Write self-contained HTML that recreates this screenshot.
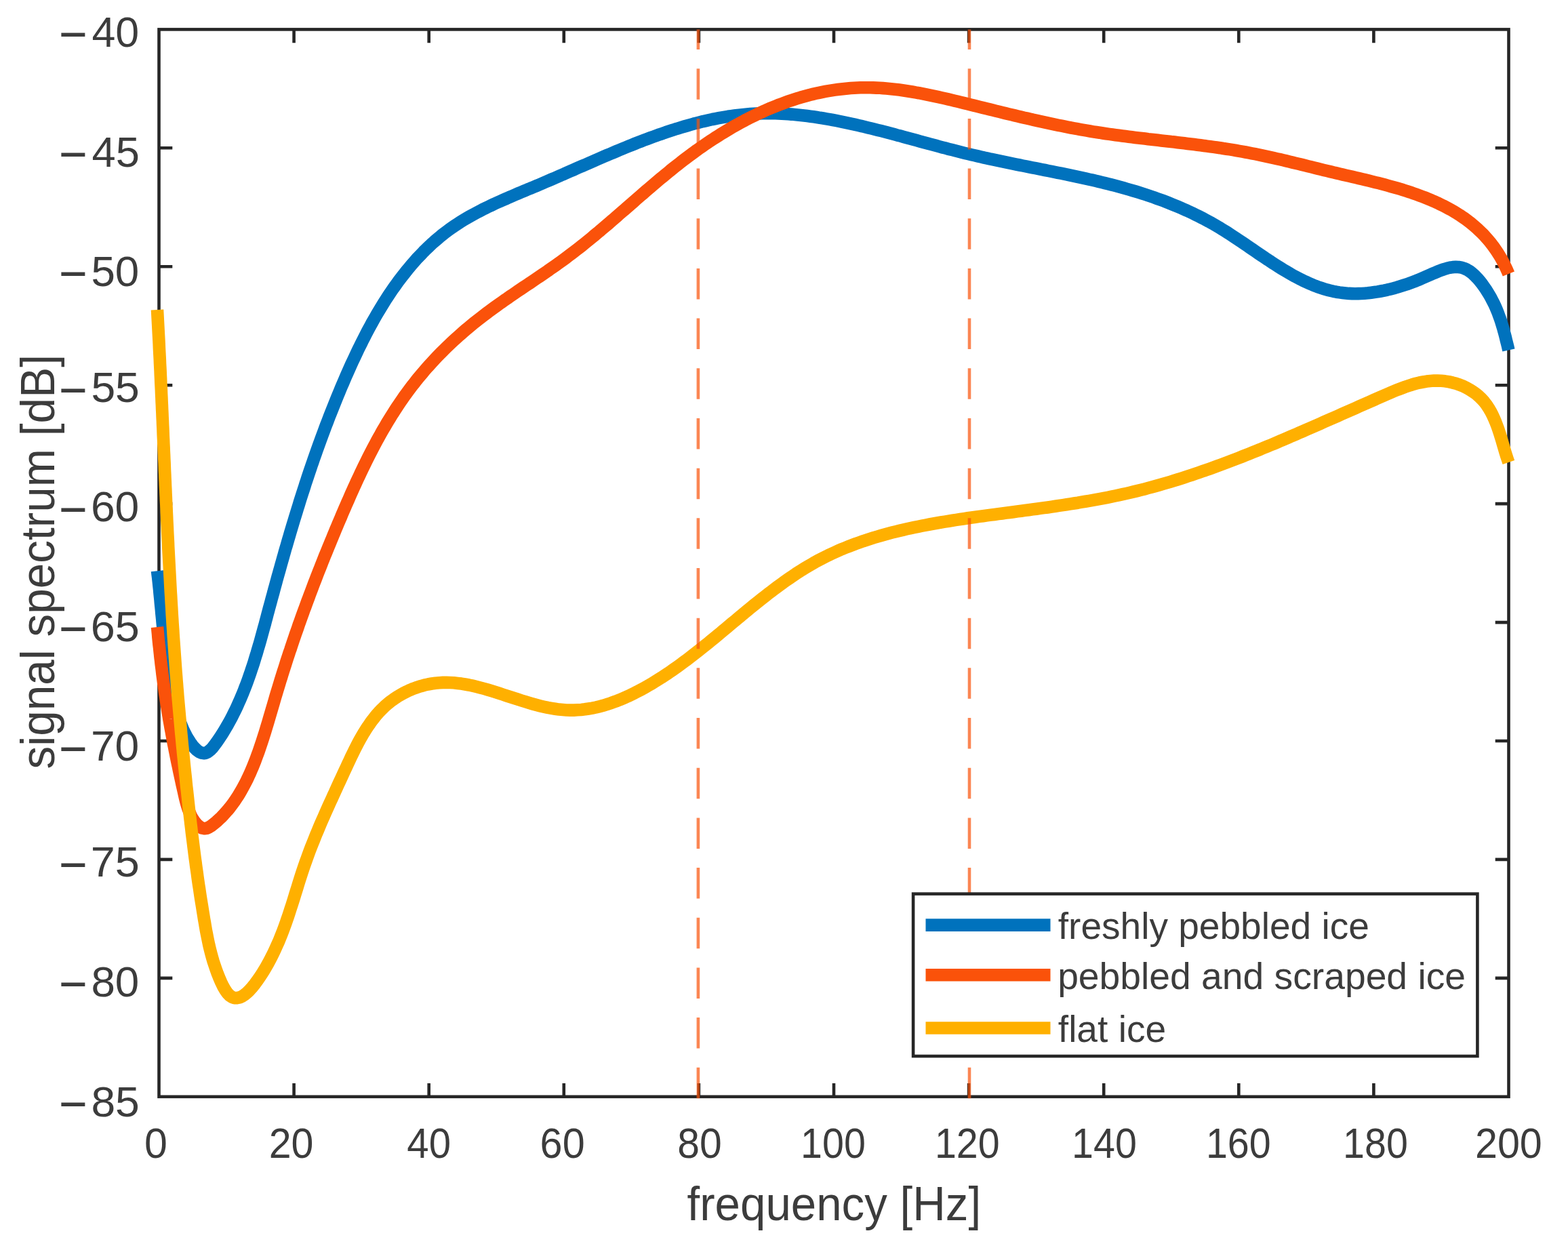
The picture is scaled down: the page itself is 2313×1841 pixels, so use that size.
<!DOCTYPE html>
<html lang="en"><head><meta charset="utf-8"><title>signal spectrum</title>
<style>html,body{margin:0;padding:0;background:#fff}body{width:2313px;height:1841px;overflow:hidden}svg{display:block}text{font-family:"Liberation Sans",Arial,Helvetica,sans-serif;fill:#3c3c3c}</style></head><body>
<svg xmlns="http://www.w3.org/2000/svg" width="2313" height="1841" viewBox="0 0 2313 1841">
<rect width="2313" height="1841" fill="#fff"/>
<g stroke="#262626" stroke-width="4.6" fill="none" stroke-linecap="butt">
<rect x="234.5" y="43.4" width="1991.0" height="1574.4"/>
<path d="M433.6,1617.8v-19.8M433.6,43.4v19.8"/>
<path d="M632.7,1617.8v-19.8M632.7,43.4v19.8"/>
<path d="M831.8,1617.8v-19.8M831.8,43.4v19.8"/>
<path d="M1030.9,1617.8v-19.8M1030.9,43.4v19.8"/>
<path d="M1230.0,1617.8v-19.8M1230.0,43.4v19.8"/>
<path d="M1429.1,1617.8v-19.8M1429.1,43.4v19.8"/>
<path d="M1628.2,1617.8v-19.8M1628.2,43.4v19.8"/>
<path d="M1827.3,1617.8v-19.8M1827.3,43.4v19.8"/>
<path d="M2026.4,1617.8v-19.8M2026.4,43.4v19.8"/>
<path d="M234.5,1442.9h19.8M2225.5,1442.9h-19.8"/>
<path d="M234.5,1267.9h19.8M2225.5,1267.9h-19.8"/>
<path d="M234.5,1093.0h19.8M2225.5,1093.0h-19.8"/>
<path d="M234.5,918.1h19.8M2225.5,918.1h-19.8"/>
<path d="M234.5,743.1h19.8M2225.5,743.1h-19.8"/>
<path d="M234.5,568.2h19.8M2225.5,568.2h-19.8"/>
<path d="M234.5,393.3h19.8M2225.5,393.3h-19.8"/>
<path d="M234.5,218.3h19.8M2225.5,218.3h-19.8"/>
</g>
<g fill="none" stroke-width="18.6" stroke-linejoin="round" stroke-linecap="butt">
<path stroke="#0072bd" d="M232.0,842.2 L232.5,846.8 L233.1,851.4 L233.6,856.1 L234.1,860.8 L234.6,865.6 L235.1,870.3 L235.5,875.1 L236.0,880.0 L236.5,884.8 L236.9,889.7 L237.4,894.6 L237.9,899.5 L238.3,904.4 L238.8,909.3 L239.3,914.2 L239.7,919.1 L240.2,924.0 L240.7,928.9 L241.2,933.8 L241.6,938.7 L242.1,943.6 L242.6,948.5 L243.1,953.3 L243.7,958.1 L244.2,962.9 L244.7,967.7 L245.3,972.4 L245.9,977.1 L246.5,981.8 L247.1,986.4 L247.7,991.0 L248.3,995.5 L249.0,1000.1 L249.8,1004.6 L250.5,1009.1 L251.3,1013.6 L252.2,1018.1 L253.2,1022.6 L254.2,1027.2 L255.3,1031.7 L256.5,1036.3 L257.7,1041.0 L259.1,1045.7 L260.6,1050.4 L262.1,1055.2 L263.8,1060.1 L265.6,1065.0 L267.6,1070.0 L269.7,1075.1 L272.1,1080.2 L274.7,1085.3 L277.6,1090.3 L280.6,1095.0 L283.7,1099.4 L287.0,1103.3 L290.3,1106.5 L293.7,1109.0 L297.1,1110.6 L300.4,1111.2 L303.7,1110.7 L306.9,1109.1 L310.0,1106.6 L313.1,1103.5 L316.0,1099.8 L318.9,1095.9 L321.7,1091.9 L324.5,1087.8 L327.2,1083.6 L329.8,1079.5 L332.3,1075.3 L334.8,1071.1 L337.2,1066.8 L339.5,1062.6 L341.8,1058.3 L344.0,1053.9 L346.2,1049.6 L348.3,1045.2 L350.3,1040.8 L352.3,1036.3 L354.3,1031.9 L356.2,1027.4 L358.1,1022.9 L359.9,1018.4 L361.6,1013.9 L363.4,1009.3 L365.1,1004.8 L366.7,1000.2 L368.3,995.6 L369.9,991.0 L371.4,986.4 L373.0,981.7 L374.5,977.1 L375.9,972.4 L377.3,967.8 L378.8,963.1 L380.1,958.4 L381.5,953.8 L382.9,949.1 L384.2,944.4 L385.5,939.7 L386.8,935.0 L388.1,930.3 L389.4,925.6 L390.7,920.9 L391.9,916.2 L393.2,911.5 L394.4,906.8 L395.7,902.1 L396.9,897.4 L398.2,892.7 L399.5,888.0 L400.7,883.4 L402.0,878.7 L403.3,874.1 L404.5,869.4 L405.8,864.8 L407.1,860.1 L408.3,855.5 L409.6,850.8 L410.9,846.2 L412.2,841.6 L413.5,837.0 L414.8,832.3 L416.1,827.7 L417.4,823.1 L418.7,818.5 L420.0,813.9 L421.3,809.3 L422.7,804.7 L424.0,800.2 L425.3,795.6 L426.7,791.0 L428.0,786.4 L429.4,781.8 L430.7,777.3 L432.1,772.7 L433.5,768.1 L434.9,763.6 L436.3,759.0 L437.7,754.5 L439.1,749.9 L440.5,745.4 L441.9,740.8 L443.3,736.3 L444.8,731.7 L446.2,727.2 L447.7,722.7 L449.2,718.1 L450.6,713.6 L452.1,709.1 L453.6,704.5 L455.1,700.0 L456.6,695.5 L458.2,690.9 L459.7,686.4 L461.3,681.9 L462.8,677.4 L464.4,672.9 L466.0,668.4 L467.6,663.8 L469.2,659.3 L470.8,654.8 L472.5,650.3 L474.1,645.8 L475.8,641.3 L477.5,636.8 L479.1,632.3 L480.8,627.7 L482.6,623.2 L484.3,618.7 L486.0,614.2 L487.8,609.7 L489.6,605.2 L491.4,600.7 L493.2,596.2 L495.0,591.7 L496.8,587.2 L498.7,582.7 L500.6,578.2 L502.4,573.6 L504.3,569.1 L506.3,564.6 L508.2,560.1 L510.1,555.6 L512.1,551.1 L514.1,546.6 L516.1,542.1 L518.1,537.6 L520.2,533.1 L522.3,528.7 L524.4,524.2 L526.5,519.7 L528.6,515.3 L530.8,510.9 L533.0,506.5 L535.2,502.0 L537.4,497.7 L539.6,493.3 L541.9,488.9 L544.2,484.6 L546.6,480.3 L548.9,476.0 L551.3,471.7 L553.7,467.5 L556.2,463.2 L558.7,459.0 L561.2,454.9 L563.7,450.7 L566.3,446.6 L568.8,442.5 L571.5,438.4 L574.1,434.4 L576.8,430.4 L579.5,426.4 L582.3,422.5 L585.1,418.6 L587.9,414.7 L590.8,410.9 L593.7,407.1 L596.6,403.4 L599.6,399.7 L602.6,396.0 L605.6,392.4 L608.7,388.8 L611.8,385.2 L614.9,381.7 L618.1,378.3 L621.4,374.9 L624.6,371.5 L628.0,368.2 L631.3,365.0 L634.7,361.8 L638.1,358.6 L641.6,355.5 L645.2,352.5 L648.7,349.5 L652.3,346.5 L656.0,343.7 L659.7,340.9 L663.5,338.1 L667.3,335.4 L671.1,332.8 L675.0,330.2 L678.9,327.7 L682.9,325.2 L686.9,322.8 L691.0,320.4 L695.0,318.1 L699.2,315.8 L703.3,313.6 L707.5,311.4 L711.7,309.2 L716.0,307.1 L720.3,305.0 L724.6,303.0 L728.9,300.9 L733.3,298.9 L737.7,297.0 L742.1,295.0 L746.5,293.1 L750.9,291.1 L755.4,289.2 L759.9,287.3 L764.3,285.4 L768.8,283.5 L773.3,281.6 L777.8,279.7 L782.4,277.9 L786.9,276.0 L791.4,274.1 L795.9,272.2 L800.5,270.2 L805.0,268.3 L809.5,266.4 L814.1,264.4 L818.6,262.5 L823.1,260.5 L827.6,258.5 L832.2,256.6 L836.7,254.6 L841.2,252.6 L845.8,250.6 L850.3,248.6 L854.8,246.6 L859.4,244.6 L863.9,242.7 L868.4,240.7 L873.0,238.7 L877.5,236.7 L882.0,234.8 L886.6,232.8 L891.1,230.8 L895.6,228.9 L900.2,227.0 L904.7,225.1 L909.3,223.1 L913.8,221.2 L918.3,219.4 L922.9,217.5 L927.4,215.7 L932.0,213.8 L936.5,212.0 L941.1,210.2 L945.6,208.5 L950.2,206.7 L954.8,205.0 L959.3,203.3 L963.9,201.6 L968.4,200.0 L973.0,198.3 L977.6,196.8 L982.1,195.2 L986.7,193.7 L991.3,192.2 L995.8,190.7 L1000.4,189.3 L1005.0,187.9 L1009.6,186.5 L1014.2,185.2 L1018.8,183.9 L1023.3,182.6 L1027.9,181.4 L1032.5,180.3 L1037.1,179.1 L1041.7,178.1 L1046.3,177.0 L1050.9,176.0 L1055.6,175.1 L1060.2,174.2 L1064.8,173.4 L1069.4,172.6 L1074.0,171.8 L1078.7,171.1 L1083.3,170.5 L1087.9,169.9 L1092.6,169.4 L1097.2,168.9 L1101.8,168.5 L1106.5,168.1 L1111.1,167.8 L1115.8,167.6 L1120.5,167.4 L1125.1,167.3 L1129.8,167.2 L1134.5,167.2 L1139.1,167.2 L1143.8,167.3 L1148.5,167.5 L1153.2,167.7 L1157.9,168.0 L1162.6,168.3 L1167.3,168.6 L1171.9,169.0 L1176.6,169.5 L1181.4,170.0 L1186.1,170.5 L1190.8,171.1 L1195.5,171.7 L1200.2,172.3 L1204.9,173.0 L1209.6,173.8 L1214.4,174.5 L1219.1,175.3 L1223.8,176.2 L1228.5,177.0 L1233.3,177.9 L1238.0,178.8 L1242.7,179.8 L1247.5,180.8 L1252.2,181.8 L1256.9,182.8 L1261.7,183.9 L1266.4,185.0 L1271.2,186.1 L1275.9,187.2 L1280.7,188.4 L1285.4,189.5 L1290.2,190.7 L1294.9,191.9 L1299.7,193.1 L1304.4,194.3 L1309.2,195.6 L1313.9,196.8 L1318.7,198.1 L1323.4,199.4 L1328.2,200.6 L1333.0,201.9 L1337.7,203.2 L1342.5,204.5 L1347.2,205.8 L1352.0,207.1 L1356.8,208.4 L1361.5,209.7 L1366.3,211.0 L1371.0,212.3 L1375.8,213.5 L1380.6,214.8 L1385.3,216.1 L1390.1,217.4 L1394.8,218.6 L1399.6,219.9 L1404.4,221.1 L1409.1,222.3 L1413.9,223.5 L1418.6,224.7 L1423.4,225.9 L1428.2,227.1 L1432.9,228.2 L1437.7,229.3 L1442.4,230.4 L1447.2,231.5 L1451.9,232.6 L1456.7,233.6 L1461.4,234.7 L1466.2,235.7 L1470.9,236.7 L1475.6,237.7 L1480.4,238.7 L1485.1,239.7 L1489.9,240.7 L1494.6,241.6 L1499.3,242.6 L1504.0,243.5 L1508.8,244.5 L1513.5,245.4 L1518.2,246.4 L1522.9,247.3 L1527.6,248.2 L1532.3,249.2 L1537.0,250.1 L1541.7,251.0 L1546.4,252.0 L1551.1,252.9 L1555.8,253.8 L1560.5,254.8 L1565.1,255.7 L1569.8,256.7 L1574.5,257.6 L1579.1,258.6 L1583.8,259.6 L1588.4,260.6 L1593.1,261.6 L1597.7,262.6 L1602.3,263.6 L1607.0,264.7 L1611.6,265.7 L1616.2,266.8 L1620.8,267.9 L1625.4,269.0 L1630.0,270.1 L1634.6,271.3 L1639.1,272.4 L1643.7,273.6 L1648.3,274.8 L1652.8,276.0 L1657.4,277.3 L1661.9,278.6 L1666.4,279.9 L1671.0,281.2 L1675.5,282.5 L1680.0,283.9 L1684.5,285.3 L1689.0,286.8 L1693.4,288.3 L1697.9,289.8 L1702.4,291.3 L1706.8,292.9 L1711.3,294.5 L1715.7,296.1 L1720.1,297.8 L1724.5,299.5 L1728.9,301.3 L1733.3,303.1 L1737.7,304.9 L1742.1,306.8 L1746.4,308.7 L1750.8,310.6 L1755.1,312.6 L1759.5,314.7 L1763.8,316.8 L1768.1,318.9 L1772.4,321.1 L1776.7,323.3 L1780.9,325.6 L1785.2,327.9 L1789.4,330.3 L1793.7,332.8 L1797.9,335.2 L1802.1,337.8 L1806.3,340.4 L1810.5,343.0 L1814.7,345.7 L1818.8,348.4 L1823.0,351.2 L1827.1,353.9 L1831.3,356.7 L1835.4,359.5 L1839.6,362.4 L1843.7,365.2 L1847.8,368.0 L1852.0,370.9 L1856.1,373.7 L1860.2,376.5 L1864.4,379.3 L1868.5,382.1 L1872.7,384.8 L1876.8,387.6 L1881.0,390.3 L1885.1,392.9 L1889.3,395.5 L1893.5,398.1 L1897.7,400.6 L1901.9,403.1 L1906.1,405.5 L1910.3,407.8 L1914.6,410.0 L1918.8,412.2 L1923.1,414.3 L1927.4,416.3 L1931.7,418.2 L1936.0,420.1 L1940.3,421.8 L1944.7,423.4 L1949.1,424.9 L1953.5,426.3 L1957.9,427.6 L1962.4,428.7 L1966.9,429.8 L1971.4,430.7 L1975.9,431.4 L1980.5,432.0 L1985.1,432.5 L1989.7,432.9 L1994.4,433.1 L1999.0,433.2 L2003.7,433.1 L2008.4,433.0 L2013.1,432.7 L2017.8,432.3 L2022.6,431.7 L2027.3,431.1 L2032.1,430.4 L2036.8,429.5 L2041.6,428.6 L2046.3,427.6 L2051.1,426.4 L2055.9,425.2 L2060.6,423.9 L2065.4,422.4 L2070.1,420.9 L2074.9,419.4 L2079.6,417.7 L2084.3,416.0 L2089.0,414.2 L2093.6,412.3 L2098.3,410.3 L2102.9,408.3 L2107.5,406.3 L2112.1,404.2 L2116.7,402.3 L2121.2,400.4 L2125.7,398.6 L2130.1,397.1 L2134.5,395.8 L2138.8,394.8 L2143.1,394.1 L2147.4,393.8 L2151.6,394.0 L2155.7,394.7 L2159.7,395.9 L2163.7,397.6 L2167.7,400.0 L2171.5,402.9 L2175.2,406.2 L2178.8,409.9 L2182.3,413.9 L2185.7,418.1 L2188.8,422.5 L2191.8,426.8 L2194.6,431.2 L2197.2,435.5 L2199.7,439.9 L2201.9,444.2 L2204.1,448.5 L2206.1,452.9 L2207.9,457.2 L2209.7,461.6 L2211.3,465.9 L2212.9,470.3 L2214.4,474.8 L2215.7,479.2 L2217.1,483.7 L2218.3,488.2 L2219.6,492.8 L2220.8,497.4 L2221.9,502.1 L2223.1,506.8 L2224.3,511.6 L2225.4,516.5"/>
<path stroke="#fa520a" d="M232.0,925.0 L232.5,930.1 L233.0,935.2 L233.4,940.3 L233.9,945.3 L234.4,950.3 L235.0,955.2 L235.5,960.1 L236.0,964.9 L236.5,969.7 L237.1,974.4 L237.6,979.2 L238.2,983.9 L238.8,988.5 L239.3,993.2 L239.9,997.8 L240.5,1002.4 L241.1,1006.9 L241.8,1011.5 L242.4,1016.0 L243.0,1020.5 L243.7,1025.0 L244.4,1029.6 L245.0,1034.1 L245.7,1038.5 L246.5,1043.0 L247.2,1047.5 L247.9,1052.0 L248.7,1056.5 L249.4,1061.1 L250.2,1065.6 L251.0,1070.1 L251.8,1074.7 L252.7,1079.3 L253.5,1083.8 L254.4,1088.5 L255.2,1093.1 L256.1,1097.8 L257.1,1102.5 L258.0,1107.2 L259.0,1112.0 L259.9,1116.8 L260.9,1121.6 L261.9,1126.5 L263.0,1131.4 L264.0,1136.4 L265.1,1141.4 L266.2,1146.4 L267.3,1151.6 L268.4,1156.7 L269.6,1162.0 L270.8,1167.3 L272.0,1172.6 L273.2,1178.0 L274.6,1183.4 L276.1,1188.6 L277.8,1193.8 L279.7,1198.8 L281.8,1203.6 L284.3,1208.0 L287.1,1212.2 L290.4,1216.0 L293.9,1219.2 L297.7,1221.4 L301.4,1222.2 L305.2,1221.7 L308.9,1220.0 L312.6,1217.6 L316.1,1214.8 L319.6,1211.9 L322.9,1208.8 L326.2,1205.7 L329.3,1202.5 L332.4,1199.1 L335.4,1195.7 L338.3,1192.2 L341.1,1188.6 L343.8,1185.0 L346.4,1181.3 L349.0,1177.4 L351.5,1173.6 L353.9,1169.6 L356.2,1165.6 L358.5,1161.5 L360.7,1157.4 L362.9,1153.2 L365.0,1149.0 L367.0,1144.7 L369.0,1140.3 L370.9,1135.9 L372.8,1131.5 L374.6,1127.0 L376.4,1122.5 L378.1,1117.9 L379.8,1113.3 L381.5,1108.7 L383.1,1104.0 L384.7,1099.3 L386.3,1094.6 L387.8,1089.9 L389.3,1085.2 L390.8,1080.4 L392.3,1075.6 L393.7,1070.8 L395.2,1066.0 L396.6,1061.2 L398.0,1056.4 L399.4,1051.6 L400.8,1046.8 L402.2,1042.1 L403.6,1037.3 L405.0,1032.5 L406.4,1027.7 L407.8,1023.0 L409.2,1018.3 L410.7,1013.5 L412.1,1008.8 L413.5,1004.1 L415.0,999.5 L416.4,994.8 L417.9,990.2 L419.4,985.5 L420.9,980.9 L422.3,976.3 L423.8,971.7 L425.3,967.1 L426.8,962.5 L428.4,958.0 L429.9,953.4 L431.4,948.9 L432.9,944.4 L434.5,939.8 L436.0,935.3 L437.6,930.8 L439.2,926.3 L440.7,921.8 L442.3,917.4 L443.9,912.9 L445.5,908.4 L447.1,904.0 L448.7,899.5 L450.4,895.1 L452.0,890.6 L453.6,886.2 L455.3,881.8 L456.9,877.4 L458.6,873.0 L460.3,868.5 L461.9,864.1 L463.6,859.7 L465.3,855.3 L467.0,850.9 L468.7,846.5 L470.4,842.2 L472.2,837.8 L473.9,833.4 L475.6,829.0 L477.4,824.6 L479.1,820.2 L480.9,815.9 L482.7,811.5 L484.5,807.1 L486.3,802.7 L488.1,798.3 L489.9,794.0 L491.7,789.6 L493.5,785.2 L495.3,780.8 L497.2,776.4 L499.0,772.0 L500.9,767.6 L502.8,763.2 L504.6,758.8 L506.5,754.4 L508.4,750.0 L510.3,745.6 L512.2,741.2 L514.2,736.8 L516.1,732.4 L518.0,728.0 L520.0,723.6 L522.0,719.2 L524.0,714.8 L526.0,710.4 L528.0,706.1 L530.1,701.7 L532.1,697.3 L534.2,692.9 L536.3,688.6 L538.4,684.3 L540.6,679.9 L542.7,675.6 L544.9,671.3 L547.1,667.0 L549.3,662.7 L551.6,658.4 L553.8,654.2 L556.1,649.9 L558.4,645.7 L560.8,641.5 L563.1,637.3 L565.5,633.1 L568.0,628.9 L570.4,624.8 L572.9,620.7 L575.4,616.6 L577.9,612.5 L580.5,608.4 L583.1,604.4 L585.7,600.4 L588.4,596.4 L591.1,592.4 L593.8,588.5 L596.5,584.5 L599.3,580.7 L602.2,576.8 L605.0,573.0 L607.9,569.2 L610.9,565.4 L613.8,561.6 L616.8,557.9 L619.9,554.2 L623.0,550.6 L626.1,546.9 L629.2,543.3 L632.4,539.7 L635.6,536.2 L638.8,532.7 L642.1,529.2 L645.4,525.7 L648.7,522.3 L652.1,518.9 L655.5,515.5 L658.9,512.2 L662.3,508.9 L665.8,505.6 L669.3,502.3 L672.8,499.1 L676.4,495.9 L680.0,492.7 L683.6,489.5 L687.2,486.4 L690.9,483.3 L694.6,480.3 L698.3,477.2 L702.0,474.2 L705.8,471.2 L709.6,468.3 L713.4,465.4 L717.2,462.5 L721.0,459.6 L724.9,456.7 L728.8,453.9 L732.7,451.1 L736.6,448.3 L740.5,445.6 L744.4,442.8 L748.4,440.1 L752.3,437.3 L756.3,434.6 L760.3,431.9 L764.2,429.2 L768.2,426.5 L772.2,423.8 L776.2,421.1 L780.2,418.5 L784.1,415.8 L788.1,413.1 L792.1,410.4 L796.1,407.7 L800.1,405.0 L804.0,402.3 L808.0,399.6 L811.9,396.8 L815.8,394.1 L819.8,391.3 L823.7,388.5 L827.6,385.7 L831.4,382.9 L835.3,380.1 L839.1,377.2 L843.0,374.3 L846.8,371.4 L850.5,368.5 L854.3,365.6 L858.1,362.6 L861.8,359.6 L865.5,356.6 L869.2,353.6 L872.9,350.6 L876.6,347.5 L880.3,344.4 L884.0,341.4 L887.6,338.3 L891.3,335.2 L894.9,332.1 L898.6,329.0 L902.2,325.8 L905.8,322.7 L909.4,319.6 L913.0,316.4 L916.6,313.3 L920.3,310.2 L923.9,307.0 L927.5,303.9 L931.1,300.7 L934.7,297.6 L938.3,294.4 L941.9,291.3 L945.5,288.1 L949.2,285.0 L952.8,281.8 L956.4,278.7 L960.1,275.6 L963.7,272.5 L967.4,269.4 L971.0,266.3 L974.7,263.2 L978.4,260.2 L982.1,257.1 L985.8,254.1 L989.5,251.0 L993.2,248.0 L997.0,245.0 L1000.8,242.1 L1004.5,239.1 L1008.3,236.2 L1012.2,233.3 L1016.0,230.4 L1019.9,227.5 L1023.7,224.7 L1027.6,221.8 L1031.6,219.0 L1035.5,216.3 L1039.5,213.5 L1043.4,210.8 L1047.4,208.1 L1051.5,205.5 L1055.5,202.9 L1059.6,200.3 L1063.7,197.7 L1067.8,195.2 L1071.9,192.7 L1076.1,190.2 L1080.2,187.8 L1084.4,185.4 L1088.6,183.1 L1092.8,180.7 L1097.1,178.5 L1101.3,176.2 L1105.6,174.0 L1109.9,171.9 L1114.2,169.8 L1118.5,167.7 L1122.9,165.7 L1127.2,163.7 L1131.6,161.8 L1136.0,159.9 L1140.4,158.1 L1144.8,156.3 L1149.3,154.5 L1153.7,152.9 L1158.2,151.2 L1162.7,149.6 L1167.2,148.1 L1171.7,146.6 L1176.2,145.2 L1180.7,143.8 L1185.3,142.5 L1189.9,141.2 L1194.4,140.0 L1199.0,138.9 L1203.6,137.8 L1208.2,136.8 L1212.9,135.8 L1217.5,134.9 L1222.1,134.1 L1226.8,133.3 L1231.5,132.6 L1236.1,132.0 L1240.8,131.4 L1245.5,130.9 L1250.2,130.4 L1254.9,130.0 L1259.7,129.7 L1264.4,129.5 L1269.1,129.3 L1273.9,129.2 L1278.7,129.2 L1283.4,129.3 L1288.2,129.4 L1293.0,129.6 L1297.8,129.8 L1302.6,130.1 L1307.4,130.5 L1312.2,131.0 L1317.0,131.5 L1321.8,132.0 L1326.6,132.6 L1331.4,133.3 L1336.2,134.0 L1341.0,134.7 L1345.8,135.5 L1350.6,136.4 L1355.5,137.2 L1360.3,138.1 L1365.1,139.1 L1369.9,140.1 L1374.7,141.1 L1379.5,142.1 L1384.3,143.1 L1389.1,144.2 L1393.8,145.3 L1398.6,146.4 L1403.4,147.5 L1408.2,148.7 L1412.9,149.8 L1417.7,151.0 L1422.4,152.1 L1427.1,153.3 L1431.8,154.5 L1436.5,155.6 L1441.2,156.8 L1445.9,158.0 L1450.6,159.1 L1455.3,160.3 L1459.9,161.4 L1464.6,162.6 L1469.2,163.7 L1473.8,164.8 L1478.5,166.0 L1483.1,167.1 L1487.7,168.2 L1492.3,169.3 L1496.9,170.4 L1501.5,171.5 L1506.2,172.6 L1510.8,173.7 L1515.4,174.7 L1520.0,175.8 L1524.6,176.8 L1529.2,177.9 L1533.8,178.9 L1538.4,179.9 L1543.0,180.9 L1547.6,181.9 L1552.2,182.9 L1556.8,183.9 L1561.4,184.8 L1566.0,185.7 L1570.7,186.7 L1575.3,187.6 L1579.9,188.5 L1584.6,189.3 L1589.2,190.2 L1593.9,191.1 L1598.6,191.9 L1603.2,192.7 L1607.9,193.5 L1612.6,194.3 L1617.3,195.0 L1622.1,195.7 L1626.8,196.5 L1631.5,197.2 L1636.3,197.9 L1641.0,198.5 L1645.8,199.2 L1650.6,199.8 L1655.4,200.5 L1660.2,201.1 L1665.0,201.7 L1669.8,202.3 L1674.6,202.9 L1679.4,203.4 L1684.2,204.0 L1689.0,204.6 L1693.8,205.2 L1698.7,205.7 L1703.5,206.3 L1708.3,206.8 L1713.2,207.4 L1718.0,207.9 L1722.8,208.5 L1727.6,209.1 L1732.5,209.6 L1737.3,210.2 L1742.1,210.7 L1747.0,211.3 L1751.8,211.9 L1756.6,212.5 L1761.4,213.1 L1766.2,213.7 L1771.0,214.3 L1775.8,214.9 L1780.6,215.6 L1785.4,216.2 L1790.2,216.9 L1794.9,217.5 L1799.7,218.2 L1804.4,219.0 L1809.2,219.7 L1813.9,220.4 L1818.6,221.2 L1823.4,222.0 L1828.1,222.8 L1832.7,223.6 L1837.4,224.5 L1842.1,225.4 L1846.7,226.3 L1851.4,227.2 L1856.0,228.1 L1860.6,229.1 L1865.2,230.1 L1869.8,231.1 L1874.4,232.1 L1879.0,233.1 L1883.6,234.2 L1888.2,235.2 L1892.8,236.3 L1897.4,237.4 L1902.0,238.5 L1906.5,239.6 L1911.1,240.7 L1915.7,241.8 L1920.3,242.9 L1924.9,244.1 L1929.5,245.2 L1934.1,246.3 L1938.8,247.5 L1943.4,248.6 L1948.0,249.7 L1952.7,250.9 L1957.4,252.0 L1962.0,253.1 L1966.7,254.3 L1971.5,255.4 L1976.2,256.5 L1980.9,257.6 L1985.7,258.7 L1990.4,259.8 L1995.2,260.9 L2000.0,262.0 L2004.7,263.1 L2009.5,264.3 L2014.3,265.4 L2019.1,266.6 L2023.8,267.7 L2028.6,268.9 L2033.4,270.1 L2038.1,271.3 L2042.9,272.6 L2047.6,273.9 L2052.3,275.2 L2057.0,276.5 L2061.7,277.8 L2066.4,279.2 L2071.0,280.7 L2075.7,282.1 L2080.3,283.6 L2084.8,285.2 L2089.4,286.8 L2093.9,288.4 L2098.4,290.1 L2102.8,291.8 L2107.2,293.6 L2111.6,295.4 L2115.9,297.3 L2120.2,299.2 L2124.5,301.3 L2128.7,303.3 L2132.9,305.5 L2137.0,307.7 L2141.1,309.9 L2145.1,312.3 L2149.0,314.7 L2152.9,317.1 L2156.8,319.7 L2160.6,322.3 L2164.3,325.0 L2168.0,327.8 L2171.6,330.7 L2175.1,333.7 L2178.6,336.7 L2182.0,339.9 L2185.3,343.1 L2188.6,346.4 L2191.7,349.9 L2194.8,353.4 L2197.9,357.0 L2200.8,360.7 L2203.7,364.6 L2206.4,368.5 L2209.1,372.5 L2211.7,376.7 L2214.3,381.0 L2216.7,385.4 L2219.0,389.9 L2221.2,394.5 L2223.4,399.2 L2225.4,404.1"/>
<path stroke="#ffb000" d="M232.0,457.0 L232.3,462.6 L232.6,468.3 L232.9,473.9 L233.2,479.6 L233.5,485.2 L233.8,490.9 L234.1,496.5 L234.4,502.1 L234.7,507.8 L234.9,513.4 L235.2,519.1 L235.5,524.7 L235.8,530.3 L236.0,536.0 L236.3,541.6 L236.6,547.3 L236.8,552.9 L237.1,558.5 L237.3,564.2 L237.6,569.8 L237.9,575.4 L238.1,581.1 L238.4,586.7 L238.6,592.3 L238.9,598.0 L239.1,603.6 L239.4,609.2 L239.6,614.9 L239.9,620.5 L240.1,626.1 L240.4,631.7 L240.6,637.4 L240.8,643.0 L241.1,648.6 L241.3,654.3 L241.6,659.9 L241.8,665.5 L242.1,671.2 L242.3,676.8 L242.6,682.4 L242.8,688.0 L243.0,693.7 L243.3,699.3 L243.5,704.9 L243.8,710.5 L244.0,716.2 L244.3,721.8 L244.5,727.4 L244.8,733.1 L245.0,738.7 L245.3,744.3 L245.6,749.9 L245.8,755.6 L246.1,761.2 L246.3,766.8 L246.6,772.4 L246.9,778.1 L247.1,783.7 L247.4,789.3 L247.7,794.9 L248.0,800.6 L248.2,806.2 L248.5,811.8 L248.8,817.5 L249.1,823.1 L249.4,828.7 L249.7,834.3 L250.0,840.0 L250.3,845.6 L250.6,851.2 L250.9,856.8 L251.2,862.5 L251.5,868.1 L251.8,873.7 L252.2,879.4 L252.5,885.0 L252.8,890.6 L253.2,896.3 L253.5,901.9 L253.8,907.5 L254.2,913.1 L254.5,918.8 L254.9,924.4 L255.3,930.0 L255.6,935.7 L256.0,941.3 L256.4,946.9 L256.8,952.6 L257.2,958.2 L257.6,963.9 L258.0,969.5 L258.4,975.1 L258.8,980.8 L259.2,986.4 L259.6,992.0 L260.1,997.7 L260.5,1003.3 L261.0,1009.0 L261.4,1014.6 L261.9,1020.2 L262.3,1025.9 L262.8,1031.5 L263.3,1037.2 L263.8,1042.8 L264.3,1048.4 L264.8,1054.1 L265.3,1059.7 L265.8,1065.4 L266.3,1071.0 L266.8,1076.6 L267.3,1082.3 L267.9,1087.9 L268.4,1093.5 L268.9,1099.1 L269.5,1104.8 L270.0,1110.4 L270.6,1116.0 L271.2,1121.6 L271.7,1127.2 L272.3,1132.8 L272.9,1138.4 L273.5,1144.0 L274.1,1149.6 L274.6,1155.2 L275.2,1160.8 L275.9,1166.4 L276.5,1172.0 L277.1,1177.6 L277.7,1183.2 L278.3,1188.7 L278.9,1194.3 L279.6,1199.8 L280.2,1205.4 L280.9,1211.0 L281.5,1216.5 L282.2,1222.0 L282.8,1227.6 L283.5,1233.1 L284.2,1238.7 L284.9,1244.2 L285.6,1249.8 L286.3,1255.3 L287.0,1260.8 L287.7,1266.4 L288.5,1271.9 L289.2,1277.5 L290.0,1283.0 L290.8,1288.5 L291.5,1294.1 L292.3,1299.6 L293.1,1305.2 L294.0,1310.8 L294.8,1316.3 L295.6,1321.9 L296.5,1327.5 L297.4,1333.0 L298.3,1338.6 L299.2,1344.2 L300.1,1349.8 L301.0,1355.4 L302.0,1361.0 L302.9,1366.6 L303.9,1372.3 L305.0,1377.9 L306.1,1383.6 L307.3,1389.3 L308.5,1395.0 L309.9,1400.8 L311.4,1406.6 L313.0,1412.5 L314.7,1418.4 L316.7,1424.4 L318.8,1430.5 L321.0,1436.6 L323.5,1442.8 L326.2,1449.0 L329.1,1455.0 L332.2,1460.4 L335.4,1465.0 L338.8,1468.5 L342.3,1470.9 L345.9,1472.1 L349.5,1472.2 L353.3,1471.4 L357.1,1469.7 L360.9,1467.2 L364.7,1464.1 L368.5,1460.3 L372.2,1456.2 L375.9,1451.6 L379.4,1446.8 L382.9,1441.7 L386.3,1436.6 L389.5,1431.5 L392.6,1426.3 L395.5,1421.1 L398.3,1415.8 L401.0,1410.6 L403.6,1405.3 L406.1,1400.0 L408.5,1394.7 L410.9,1389.4 L413.1,1384.0 L415.2,1378.7 L417.3,1373.3 L419.3,1368.0 L421.3,1362.6 L423.1,1357.2 L425.0,1351.8 L426.8,1346.4 L428.5,1341.0 L430.3,1335.6 L432.0,1330.2 L433.7,1324.9 L435.3,1319.5 L437.0,1314.1 L438.7,1308.7 L440.3,1303.4 L442.0,1298.0 L443.7,1292.7 L445.4,1287.4 L447.2,1282.1 L449.0,1276.8 L450.8,1271.6 L452.7,1266.4 L454.6,1261.1 L456.5,1255.9 L458.5,1250.7 L460.5,1245.6 L462.6,1240.4 L464.6,1235.3 L466.7,1230.1 L468.9,1225.0 L471.0,1219.9 L473.2,1214.7 L475.4,1209.6 L477.7,1204.5 L479.9,1199.4 L482.2,1194.2 L484.5,1189.1 L486.8,1184.0 L489.2,1178.9 L491.5,1173.7 L493.9,1168.6 L496.2,1163.4 L498.6,1158.2 L501.0,1153.0 L503.4,1147.8 L505.8,1142.6 L508.2,1137.4 L510.7,1132.1 L513.1,1126.9 L515.6,1121.6 L518.0,1116.4 L520.6,1111.2 L523.1,1106.0 L525.7,1100.8 L528.4,1095.7 L531.2,1090.6 L534.0,1085.7 L536.9,1080.7 L539.9,1075.9 L543.0,1071.2 L546.2,1066.6 L549.5,1062.1 L552.9,1057.7 L556.4,1053.4 L560.1,1049.3 L564.0,1045.4 L568.0,1041.6 L572.1,1038.0 L576.4,1034.5 L580.9,1031.3 L585.5,1028.2 L590.2,1025.3 L595.0,1022.6 L600.0,1020.1 L605.0,1017.8 L610.1,1015.7 L615.3,1013.9 L620.6,1012.2 L625.9,1010.7 L631.3,1009.5 L636.8,1008.5 L642.2,1007.7 L647.7,1007.2 L653.2,1006.9 L658.7,1006.8 L664.2,1007.0 L669.7,1007.3 L675.2,1007.9 L680.7,1008.6 L686.2,1009.5 L691.8,1010.5 L697.3,1011.7 L702.8,1013.0 L708.4,1014.4 L713.9,1015.9 L719.5,1017.5 L725.0,1019.2 L730.6,1020.9 L736.1,1022.7 L741.7,1024.5 L747.2,1026.3 L752.8,1028.1 L758.3,1029.9 L763.9,1031.7 L769.4,1033.5 L775.0,1035.2 L780.5,1036.9 L786.0,1038.5 L791.6,1040.0 L797.1,1041.4 L802.6,1042.7 L808.1,1043.9 L813.6,1044.9 L819.1,1045.8 L824.6,1046.6 L830.1,1047.1 L835.6,1047.5 L841.1,1047.6 L846.5,1047.6 L852.0,1047.3 L857.4,1046.9 L862.8,1046.3 L868.2,1045.5 L873.6,1044.6 L879.0,1043.5 L884.3,1042.2 L889.6,1040.8 L895.0,1039.2 L900.2,1037.5 L905.5,1035.6 L910.7,1033.7 L915.9,1031.6 L921.1,1029.4 L926.3,1027.1 L931.4,1024.6 L936.5,1022.1 L941.5,1019.5 L946.6,1016.9 L951.6,1014.1 L956.5,1011.3 L961.4,1008.4 L966.3,1005.4 L971.1,1002.4 L975.9,999.4 L980.7,996.2 L985.5,993.1 L990.2,989.9 L994.8,986.6 L999.5,983.3 L1004.1,980.0 L1008.7,976.6 L1013.3,973.2 L1017.9,969.7 L1022.4,966.2 L1026.9,962.7 L1031.4,959.2 L1035.9,955.6 L1040.3,952.0 L1044.8,948.4 L1049.2,944.8 L1053.6,941.2 L1058.1,937.5 L1062.5,933.9 L1066.9,930.2 L1071.2,926.6 L1075.6,922.9 L1080.0,919.2 L1084.4,915.6 L1088.8,911.9 L1093.2,908.3 L1097.5,904.6 L1101.9,901.0 L1106.3,897.4 L1110.7,893.8 L1115.1,890.2 L1119.5,886.7 L1124.0,883.2 L1128.4,879.7 L1132.8,876.2 L1137.3,872.8 L1141.8,869.4 L1146.3,866.0 L1150.8,862.7 L1155.3,859.4 L1159.9,856.2 L1164.5,853.0 L1169.1,849.8 L1173.7,846.7 L1178.4,843.7 L1183.0,840.7 L1187.8,837.8 L1192.5,835.0 L1197.3,832.2 L1202.1,829.4 L1206.9,826.8 L1211.8,824.2 L1216.7,821.7 L1221.7,819.2 L1226.7,816.9 L1231.7,814.6 L1236.8,812.3 L1241.8,810.1 L1247.0,808.0 L1252.1,806.0 L1257.3,804.0 L1262.5,802.0 L1267.7,800.2 L1273.0,798.3 L1278.3,796.6 L1283.6,794.9 L1288.9,793.2 L1294.3,791.6 L1299.7,790.0 L1305.1,788.5 L1310.5,787.0 L1315.9,785.6 L1321.4,784.2 L1326.9,782.9 L1332.4,781.6 L1337.9,780.3 L1343.4,779.1 L1349.0,777.9 L1354.5,776.8 L1360.1,775.7 L1365.7,774.6 L1371.3,773.5 L1376.9,772.5 L1382.5,771.5 L1388.1,770.5 L1393.7,769.6 L1399.4,768.7 L1405.0,767.8 L1410.7,766.9 L1416.3,766.0 L1422.0,765.2 L1427.6,764.3 L1433.3,763.5 L1438.9,762.7 L1444.6,761.9 L1450.2,761.2 L1455.9,760.4 L1461.5,759.6 L1467.2,758.9 L1472.8,758.1 L1478.4,757.4 L1484.1,756.6 L1489.7,755.9 L1495.3,755.2 L1500.9,754.4 L1506.5,753.7 L1512.1,752.9 L1517.7,752.2 L1523.3,751.4 L1528.9,750.7 L1534.5,749.9 L1540.1,749.1 L1545.7,748.4 L1551.2,747.6 L1556.8,746.8 L1562.3,745.9 L1567.9,745.1 L1573.4,744.3 L1579.0,743.4 L1584.5,742.5 L1590.0,741.7 L1595.6,740.7 L1601.1,739.8 L1606.6,738.9 L1612.1,737.9 L1617.6,736.9 L1623.1,735.9 L1628.5,734.8 L1634.0,733.8 L1639.5,732.7 L1645.0,731.5 L1650.4,730.4 L1655.9,729.2 L1661.3,728.0 L1666.7,726.7 L1672.2,725.4 L1677.6,724.1 L1683.0,722.8 L1688.4,721.4 L1693.8,719.9 L1699.2,718.5 L1704.6,717.0 L1710.0,715.5 L1715.4,713.9 L1720.7,712.4 L1726.1,710.8 L1731.5,709.1 L1736.8,707.5 L1742.2,705.8 L1747.5,704.1 L1752.9,702.3 L1758.2,700.6 L1763.5,698.8 L1768.8,697.0 L1774.2,695.1 L1779.5,693.3 L1784.8,691.4 L1790.1,689.5 L1795.4,687.6 L1800.7,685.6 L1806.0,683.6 L1811.3,681.6 L1816.5,679.6 L1821.8,677.6 L1827.1,675.6 L1832.4,673.5 L1837.6,671.4 L1842.9,669.3 L1848.2,667.2 L1853.4,665.1 L1858.7,663.0 L1863.9,660.8 L1869.2,658.6 L1874.4,656.5 L1879.7,654.3 L1884.9,652.1 L1890.1,649.8 L1895.4,647.6 L1900.6,645.4 L1905.8,643.1 L1911.1,640.9 L1916.3,638.6 L1921.5,636.4 L1926.7,634.1 L1932.0,631.8 L1937.2,629.5 L1942.4,627.2 L1947.6,624.9 L1952.8,622.6 L1958.0,620.3 L1963.2,618.0 L1968.5,615.7 L1973.7,613.4 L1978.9,611.1 L1984.1,608.8 L1989.3,606.5 L1994.5,604.2 L1999.7,601.9 L2004.9,599.6 L2010.1,597.3 L2015.3,595.0 L2020.5,592.7 L2025.8,590.4 L2031.0,588.1 L2036.2,585.8 L2041.4,583.5 L2046.6,581.3 L2051.8,579.0 L2057.0,576.8 L2062.2,574.7 L2067.5,572.7 L2072.7,570.8 L2078.0,569.0 L2083.2,567.3 L2088.5,565.8 L2093.8,564.5 L2099.2,563.5 L2104.5,562.6 L2109.9,562.0 L2115.3,561.6 L2120.7,561.6 L2126.1,561.8 L2131.6,562.3 L2137.0,563.2 L2142.5,564.4 L2147.8,565.8 L2153.1,567.6 L2158.3,569.7 L2163.3,572.1 L2168.2,574.8 L2172.9,577.8 L2177.4,581.0 L2181.6,584.6 L2185.6,588.5 L2189.3,592.6 L2192.8,597.1 L2195.9,601.8 L2198.8,606.7 L2201.5,611.8 L2203.9,617.1 L2206.2,622.5 L2208.3,628.0 L2210.3,633.5 L2212.2,639.2 L2213.9,644.8 L2215.6,650.4 L2217.2,656.0 L2218.8,661.4 L2220.4,666.8 L2222.0,672.0 L2223.7,677.1 L2225.4,682.0"/>
</g>
<g stroke="#fa520a" stroke-opacity="0.7" stroke-width="4.6" fill="none" stroke-dasharray="45.5 28.18">
<path d="M1029.9,1620.3V43.4"/>
<path d="M1430.0,1620.3V43.4"/>
</g>
<rect x="1347.1" y="1318.6" width="832.3" height="239.4" fill="#fff" stroke="#262626" stroke-width="4.6"/>
<path d="M1365.5,1364.6H1549.5" stroke="#0072bd" stroke-width="18.6" fill="none"/>
<path d="M1365.5,1438.3H1549.5" stroke="#fa520a" stroke-width="18.6" fill="none"/>
<path d="M1365.5,1516.5H1549.5" stroke="#ffb000" stroke-width="18.6" fill="none"/>
<text transform="translate(1560.82,1385.00) scale(0.9832,1.0000)" font-size="56">freshly pebbled ice</text>
<text transform="translate(1560.15,1458.90) scale(0.9866,1.0000)" font-size="56">pebbled and scraped ice</text>
<text transform="translate(1560.82,1536.90) scale(0.9842,1.0000)" font-size="56">flat ice</text>
<text transform="translate(212.93,1707.60) scale(0.9864,1.0200)" font-size="61.8">0</text>
<text transform="translate(396.63,1707.60) scale(0.9575,1.0200)" font-size="61.8">20</text>
<text transform="translate(600.29,1707.60) scale(0.9415,1.0200)" font-size="61.8">40</text>
<text transform="translate(796.62,1707.60) scale(0.9606,1.0200)" font-size="61.8">60</text>
<text transform="translate(999.22,1707.60) scale(0.9531,1.0200)" font-size="61.8">80</text>
<text transform="translate(1181.02,1707.60) scale(0.9292,1.0200)" font-size="61.8">100</text>
<text transform="translate(1378.92,1707.60) scale(0.9292,1.0200)" font-size="61.8">120</text>
<text transform="translate(1581.02,1707.60) scale(0.9292,1.0200)" font-size="61.8">140</text>
<text transform="translate(1778.92,1707.60) scale(0.9292,1.0200)" font-size="61.8">160</text>
<text transform="translate(1981.02,1707.60) scale(0.9292,1.0200)" font-size="61.8">180</text>
<text transform="translate(2175.92,1707.60) scale(0.9590,1.0200)" font-size="61.8">200</text>
<text transform="translate(135.48,68.90) scale(1.0154,1.0200)" font-size="61.8">40</text>
<text transform="translate(86.81,77.30) scale(1.1633,1.2500)" font-size="61.8">−</text>
<text transform="translate(135.47,245.50) scale(1.0233,1.0200)" font-size="61.8">45</text>
<text transform="translate(86.81,253.90) scale(1.1633,1.2500)" font-size="61.8">−</text>
<text transform="translate(134.42,421.70) scale(1.0312,1.0200)" font-size="61.8">50</text>
<text transform="translate(86.81,430.10) scale(1.1633,1.2500)" font-size="61.8">−</text>
<text transform="translate(134.40,593.30) scale(1.0394,1.0200)" font-size="61.8">55</text>
<text transform="translate(86.81,601.70) scale(1.1633,1.2500)" font-size="61.8">−</text>
<text transform="translate(133.88,769.40) scale(1.0394,1.0200)" font-size="61.8">60</text>
<text transform="translate(86.81,777.80) scale(1.1633,1.2500)" font-size="61.8">−</text>
<text transform="translate(133.86,945.70) scale(1.0476,1.0200)" font-size="61.8">65</text>
<text transform="translate(86.81,954.10) scale(1.1633,1.2500)" font-size="61.8">−</text>
<text transform="translate(133.88,1122.10) scale(1.0394,1.0200)" font-size="61.8">70</text>
<text transform="translate(86.81,1130.50) scale(1.1633,1.2500)" font-size="61.8">−</text>
<text transform="translate(133.86,1293.40) scale(1.0476,1.0200)" font-size="61.8">75</text>
<text transform="translate(86.81,1301.80) scale(1.1633,1.2500)" font-size="61.8">−</text>
<text transform="translate(134.42,1469.70) scale(1.0312,1.0200)" font-size="61.8">80</text>
<text transform="translate(86.81,1478.10) scale(1.1633,1.2500)" font-size="61.8">−</text>
<text transform="translate(134.40,1646.70) scale(1.0394,1.0200)" font-size="61.8">85</text>
<text transform="translate(86.81,1655.10) scale(1.1633,1.2500)" font-size="61.8">−</text>
<text transform="translate(1013.54,1799.80) scale(0.9609,1.0000)" font-size="70">frequency [Hz]</text>
<text transform="translate(80.20,1134.53) rotate(-90) scale(0.9643,1.0000)" font-size="70">signal spectrum [dB]</text>
</svg></body></html>
